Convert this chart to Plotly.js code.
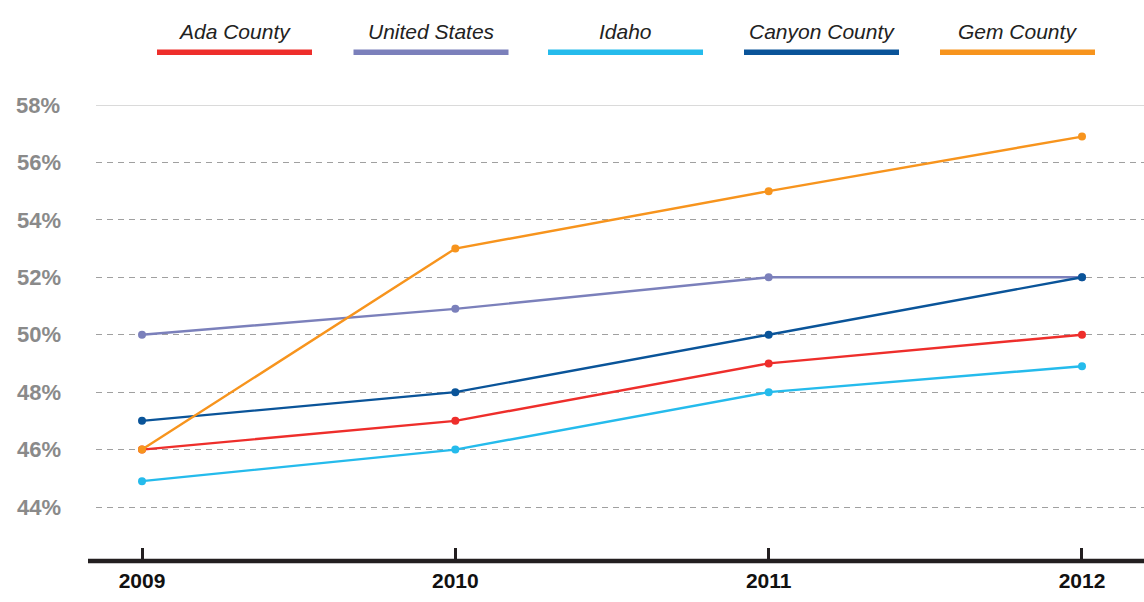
<!DOCTYPE html>
<html>
<head>
<meta charset="utf-8">
<script src="https://cdn.plot.ly/plotly-3.0.1.min.js"></script>
<style>html,body{margin:0;padding:0;background:#fff;}#chart{width:1144px;height:602px;}</style>
</head>
<body>
<div id="chart"></div>
<script>
const years = [2009, 2010, 2011, 2012];
const seriesNames = ["Ada County", "United States", "Idaho", "Canyon County", "Gem County"];
const adaCounty = [46.0, 47.0, 49.0, 50.0];
const unitedStates = [50.0, 50.9, 52.0, 52.0];
const idaho = [44.9, 46.0, 48.0, 48.9];
const canyonCounty = [47.0, 48.0, 50.0, 52.0];
const gemCounty = [46.0, 53.0, 55.0, 56.9];
const yTicks = [44, 46, 48, 50, 52, 54, 56, 58];
const yTickLabels = ["44%", "46%", "48%", "50%", "52%", "54%", "56%", "58%"];

const seriesValues = [adaCounty, unitedStates, idaho, canyonCounty, gemCounty];
const colors = ["#ee2e2b", "#7b80bb", "#25bbec", "#0a5499", "#f7941d"];
// drawing order: US, Idaho, Ada, Canyon, Gem
const drawOrder = [1, 2, 0, 3, 4];

const traces = drawOrder.map(i => ({
  x: years,
  y: seriesValues[i],
  name: seriesNames[i],
  type: "scatter",
  mode: "lines+markers",
  line: {color: colors[i], width: 2.4},
  marker: {color: colors[i], size: 8},
  cliponaxis: false,
  hoverinfo: "x+y+name"
}));

// plot area in pixels: left 96, right 1144, top 105, bottom 561
const L = 96, R = 1144, T = 105, B = 561;
const px = v => (v - L) / (R - L);
const py = v => (B - v) / (B - T);

const shapes = [];
const annotations = [];
// top solid gridline at 58%
shapes.push({type: "line", xref: "paper", yref: "y", x0: 0, x1: 1, y0: 58, y1: 58,
  line: {color: "#b5b5b5", width: 1}, layer: "below"});
// bottom axis line
shapes.push({type: "line", xref: "paper", yref: "paper", x0: px(88), x1: 1, y0: 0, y1: 0,
  line: {color: "#231f20", width: 4.5}, layer: "above"});

// legend built from series names and colors
const legCenters = [234.5, 431, 625.5, 821.5, 1017.5];
seriesNames.forEach((n, i) => {
  const c = legCenters[i];
  shapes.push({type: "rect", xref: "paper", yref: "paper",
    x0: px(c - 77.5), x1: px(c + 77.5), y0: py(55), y1: py(49.5),
    fillcolor: colors[i], line: {width: 0}});
  annotations.push({xref: "paper", yref: "paper", x: px(c), y: py(32),
    text: "<i>" + n + "</i>", showarrow: false, xanchor: "center", yanchor: "middle",
    font: {family: "Liberation Sans, Arial, sans-serif", size: 21, color: "#222"}});
});

const layout = {
  width: 1144, height: 602,
  margin: {l: L, r: 1144 - R, t: T, b: 602 - B, pad: 0},
  paper_bgcolor: "#fff", plot_bgcolor: "#fff",
  showlegend: false,
  xaxis: {
    range: [2009 - 46 / 313.3, 2012 + 62 / 313.3],
    tickvals: years, ticktext: years.map(String),
    showgrid: false, zeroline: false, showline: false,
    ticks: "inside", ticklen: 13, tickwidth: 3, tickcolor: "#231f20",
    ticklabelstandoff: 5,
    tickfont: {family: "Liberation Sans, Arial, sans-serif", size: 21, color: "#111", weight: "bold"}
  },
  yaxis: {
    range: [44 - (B - 507) / 57.43 * 2, 58],
    tickvals: yTicks.slice(0, -1), ticktext: yTickLabels.slice(0, -1),
    showgrid: true, gridcolor: "#a0a0a0", gridwidth: 1, griddash: "6px,5px",
    zeroline: false, showline: false, ticks: "",
    ticklabelstandoff: 34,
    tickfont: {family: "Liberation Sans, Arial, sans-serif", size: 22, color: "#8a8a8a", weight: "bold"}
  },
  shapes: shapes,
  annotations: annotations.concat([{
    xref: "paper", yref: "y", x: 0, y: 58, xanchor: "right", xshift: -34,
    text: yTickLabels[yTickLabels.length - 1], showarrow: false,
    font: {family: "Liberation Sans, Arial, sans-serif", size: 22, color: "#8a8a8a", weight: "bold"}
  }])
};

Plotly.newPlot("chart", traces, layout, {displayModeBar: false, staticPlot: true});
</script>
</body>
</html>
